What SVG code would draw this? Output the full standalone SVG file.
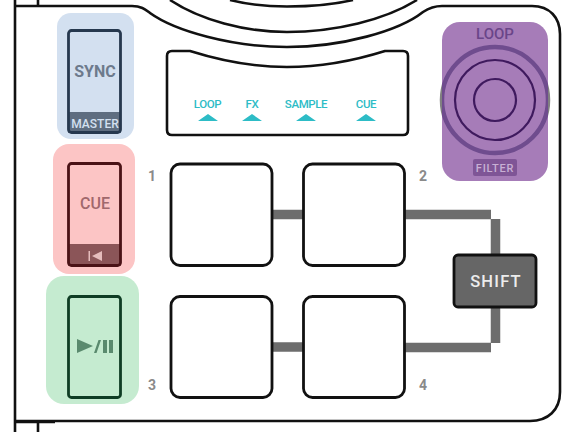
<svg xmlns="http://www.w3.org/2000/svg" width="567" height="432" viewBox="0 0 567 432">
<style>
text{font-family:Roboto,"Open Sans","Liberation Sans",sans-serif;text-anchor:middle;font-weight:500}
.line{fill:none;stroke:#111;stroke-width:2.6}
.btn{stroke-width:2.8}
.pad{fill:#fff;stroke:#111;stroke-width:2.8}
.conn{fill:none;stroke:#6d6d6d;stroke-width:9.5}
.num{font-size:14px;fill:#8a8a8a;font-weight:700}
.led{font-size:11.500px;fill:#2dbcc6;letter-spacing:-.4px}
.tri{fill:#2dbcc6}
</style>
<defs><clipPath id="loopClip"><rect x="442" y="22" width="106" height="159" rx="18"/></clipPath></defs>
<g id="body">
<path class="line" d="M15,0V432"/>
<path class="line" d="M38,0V6"/>
<path class="line" d="M38,432V423"/>
<path class="line" d="M15,6H132C142,6 146,10 150,13C175,31 232,47 287,47C342,47 399,31 423,12C429,8 434,6 442,6H532C550,6 560,18 560,34V392C560,410 548,421 530,421H15"/>
<path d="M15,422.500H55" fill="none" stroke="#111" stroke-width="1.500"/>
<path class="line" d="M170,0C200,20 245,32 287,32C335,32 385,20 417,0"/>
<path class="line" d="M230,0C250,5 270,6.500 287,6.500C310,6.500 332,5 353,0"/>
</g>
<g id="sync">
<rect x="57" y="13" width="77" height="126" rx="14" fill="#d3e0f0"/>
<rect x="68" y="112" width="53" height="21" fill="#5e6d80"/>
<rect class="btn" x="68.500" y="30.500" width="52" height="102" rx="3" fill="none" stroke="#26384e"/>
<text x="95" y="77" font-size="16" fill="#6d7a8c" font-weight="700" style="font-weight:700">SYNC</text>
<text x="95" y="128" font-size="12" fill="#d3e0f0">MASTER</text>
</g>
<g id="cue">
<rect x="53" y="144" width="82" height="130" rx="16" fill="#fcc5c5"/>
<rect x="68" y="244" width="53" height="22" fill="#8b5558"/>
<rect class="btn" x="68.500" y="163.500" width="52" height="102" rx="3" fill="none" stroke="#4a1216"/>
<text x="95" y="209" font-size="16" fill="#a0686c">CUE</text>
<path d="M88.500,251h1.500v10h-1.500zM102,251v10l-10,-5z" fill="#e5bcbc"/>
</g>
<g id="play">
<rect x="46" y="276" width="93" height="128" rx="18" fill="#c5ebd0"/>
<rect class="btn" x="68.500" y="296.500" width="52" height="101" rx="3" fill="none" stroke="#0f3d24"/>
<path d="M77,339L93,346L77,353zM94,353h2.500L101,340h-2.500zM103,340h4v13h-4zM109,340h4v13h-4z" fill="#5a8a6e"/>
</g>
<g id="display">
<path class="line" d="M172,51H190C225,62 255,67 287,67C320,67 350,62 385,51H403Q408,51 408,56V130Q408,135 403,135H172Q167,135 167,130V56Q167,51 172,51Z"/>
<text class="led" x="207.500" y="108">LOOP</text>
<text class="led" x="252" y="108">FX</text>
<text class="led" x="306" y="108">SAMPLE</text>
<text class="led" x="366" y="108">CUE</text>
<path class="tri" d="M198,121L208,114L218,121zM242,121L252,114L262,121zM296,121L306,114L316,121zM356,121L366,114L376,121z"/>
</g>
<g id="loop">
<circle cx="495" cy="100" r="53" fill="none" stroke="#808080" stroke-width="4.500"/>
<rect x="442" y="22" width="106" height="159" rx="18" fill="#a67cb8"/>
<circle cx="495" cy="100" r="53" fill="none" stroke="#6f4c8e" stroke-width="4.500" clip-path="url(#loopClip)"/>
<circle cx="495" cy="100" r="40" fill="none" stroke="#3f1a5e" stroke-width="2.200"/>
<circle cx="495" cy="100" r="21" fill="none" stroke="#3f1a5e" stroke-width="2.200"/>
<text x="495" y="39" font-size="15" fill="#6a4589">LOOP</text>
<rect x="473" y="159" width="44" height="17" rx="2" fill="#7f5596"/>
<text x="495" y="172" font-size="11" fill="#c8b0d4" letter-spacing=".8">FILTER</text>
</g>
<g id="connectors">
<path class="conn" d="M272,214.500H304M404,214.500H491"/>
<path class="conn" d="M272,347H304M404,347.500H491"/>
<path class="conn" d="M495.500,219V255M495.500,306V343"/>
</g>
<g id="pad1"><rect class="pad" x="171" y="164" width="101" height="101.500" rx="9"/><text class="num" x="152" y="181">1</text></g>
<g id="pad2"><rect class="pad" x="303.500" y="164" width="101" height="101.500" rx="9"/><text class="num" x="423" y="181">2</text></g>
<g id="pad3"><rect class="pad" x="171" y="296.500" width="101" height="101" rx="9"/><text class="num" x="152" y="390">3</text></g>
<g id="pad4"><rect class="pad" x="303.500" y="296.500" width="101" height="101" rx="9"/><text class="num" x="423" y="390">4</text></g>
<g id="shift">
<rect x="454" y="255" width="82" height="52" rx="4" fill="#666" stroke="#111" stroke-width="2.800"/>
<text x="496" y="287" font-size="16.500" fill="#ececec" letter-spacing="1.200">SHIFT</text>
</g>
</svg>
